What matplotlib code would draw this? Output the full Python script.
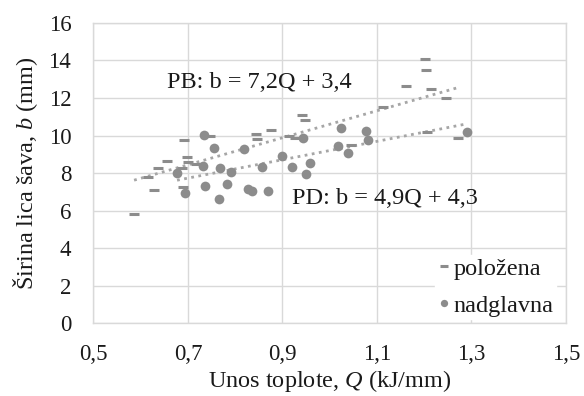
import matplotlib

matplotlib.use("Agg")

import matplotlib.pyplot as plt
import numpy as np

# položena (PB) - dash markers
pb_q = [0.586, 0.615, 0.629, 0.636, 0.656, 0.687, 0.690, 0.692, 0.697, 0.701,
        0.718, 0.747, 0.845, 0.847, 0.875, 0.914, 0.926, 0.941, 0.948, 1.046,
        1.112, 1.161, 1.202, 1.204, 1.214, 1.247, 1.207, 1.271]
pb_b = [5.80, 7.77, 7.09, 8.25, 8.66, 8.28, 7.27, 9.76, 8.87, 8.57,
        8.46, 9.97, 10.06, 9.81, 10.29, 9.99, 9.88, 11.09, 10.83, 9.49,
        11.54, 12.64, 14.06, 13.49, 12.46, 11.98, 10.17, 9.88]

# nadglavna (PD) - circle markers
pd_q = [0.677, 0.694, 0.731, 0.734, 0.736, 0.755, 0.766, 0.768, 0.782, 0.791,
        0.819, 0.828, 0.835, 0.856, 0.869, 0.900, 0.921, 0.943, 0.950, 0.958,
        1.017, 1.025, 1.039, 1.077, 1.082, 1.290]
pd_b = [7.98, 6.92, 8.39, 10.03, 7.32, 9.35, 6.60, 8.25, 7.40, 8.04,
        9.28, 7.13, 7.04, 8.34, 7.04, 8.91, 8.34, 9.88, 7.93, 8.52,
        9.46, 10.42, 9.08, 10.24, 9.76, 10.17]

# trend line coefficients (from the chart labels)
pb_fit = (7.2, 3.4)
pd_fit = (4.9, 4.3)

x_ticks = [0.5, 0.7, 0.9, 1.1, 1.3, 1.5]
x_tick_labels = ["0,5", "0,7", "0,9", "1,1", "1,3", "1,5"]
y_ticks = [0, 2, 4, 6, 8, 10, 12, 14, 16]

plt.rcParams["font.family"] = ["Liberation Serif", "DejaVu Serif"]
plt.rcParams["mathtext.fontset"] = "custom"
plt.rcParams["mathtext.rm"] = "Liberation Serif"
plt.rcParams["mathtext.it"] = "Liberation Serif:italic"

grey = "#8c8c8c"
grid = "#d9d9d9"
text_col = "#1a1a1a"

fig = plt.figure(figsize=(5.84, 3.96), dpi=100)
ax = fig.add_axes([0.160, 0.184, 0.809, 0.758])

ax.set_xlim(0.5, 1.5)
ax.set_ylim(0, 16)
ax.set_xticks(x_ticks)
ax.set_xticklabels(x_tick_labels)
ax.set_yticks(y_ticks)
ax.grid(True, color=grid, linewidth=1.0)
ax.set_axisbelow(True)
for spine in ax.spines.values():
    spine.set_color(grid)
    spine.set_linewidth(1.0)
ax.tick_params(axis="both", length=0, labelsize=16.5, colors=text_col)
ax.tick_params(axis="x", pad=15)
ax.tick_params(axis="y", pad=16)

# trend lines over each series' Q range
for q, (k, n) in ((pb_q, pb_fit), (pd_q, pd_fit)):
    xs = np.array([min(q), max(q)])
    ax.plot(xs, k * xs + n, linestyle=(0, (1, 1.6)), color="#a6a6a6",
            linewidth=2.0, zorder=2)

ax.plot(pb_q, pb_b, linestyle="none", marker="_", markersize=7.5,
        markeredgewidth=2.2, color=grey, label="položena", zorder=3)
ax.plot(pd_q, pd_b, linestyle="none", marker="o", markersize=7.0,
        markeredgewidth=0, color=grey, label="nadglavna", zorder=3)

ax.text(0.6556, 12.53, "PB: b = 7,2Q + 3,4", fontsize=17.5, color=text_col,
        va="baseline", ha="left")
ax.text(0.9207, 6.36, "PD: b = 4,9Q + 4,3", fontsize=17.5, color=text_col,
        va="baseline", ha="left")

ax.set_xlabel("Unos toplote, $Q$ (kJ/mm)", fontsize=17.5, color=text_col)
ax.set_ylabel("Širina lica šava, $b$ (mm)", fontsize=17.5, color=text_col)
ax.xaxis.set_label_coords(0.5, -0.15)
ax.yaxis.set_label_coords(-0.113, 0.5)

leg = ax.legend(loc="lower right", bbox_to_anchor=(1.005, -0.027), fontsize=17.5,
                frameon=True, fancybox=False, handlelength=0.5,
                handletextpad=0.15, borderpad=0.1, labelspacing=0.62,
                markerscale=0.75)
leg.get_frame().set_edgecolor("white")
leg.get_frame().set_facecolor("white")
leg.get_frame().set_alpha(1.0)
leg.set_zorder(2.2)  # keep the spines drawn on top of the white box
for t in leg.get_texts():
    t.set_color(text_col)

fig.savefig("out.png", dpi=100)
plt.close(fig)
